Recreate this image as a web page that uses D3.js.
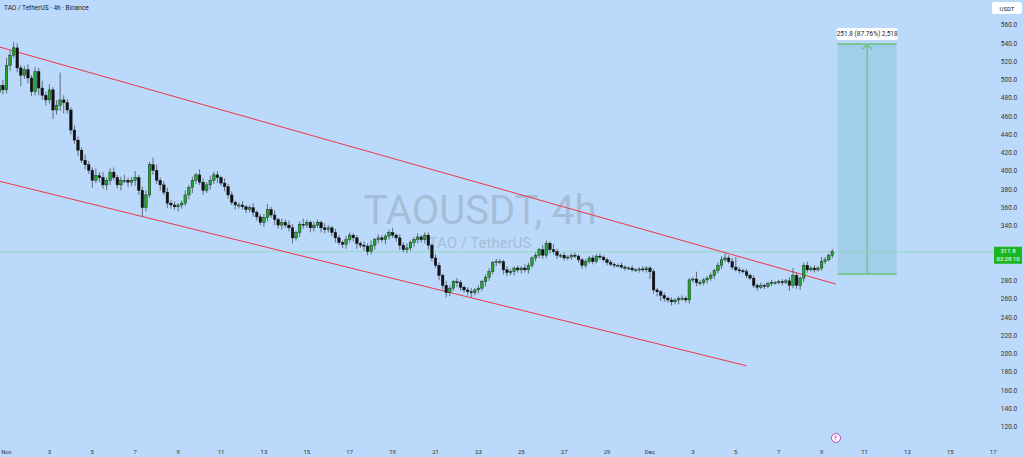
<!DOCTYPE html>
<html><head><meta charset="utf-8">
<script src="https://cdn.jsdelivr.net/npm/d3@7"></script>
<style>html,body{margin:0;padding:0;background:#bbd9fb;overflow:hidden}</style>
</head><body><svg id="c" width="1024" height="457"></svg>
<script>
// 4h closes, TAO/USDT, first candle Oct 31 16:00 UTC
const closes = [494,489,516,527,535,513,505,511,502,487,509,491,483,478,489,467,472,478,475,467,
445,434,423,412,407,401,390,395,393,385,390,399,393,385,390,390,388,390,393,
379,360,374,407,401,390,385,377,365,363,361,363,365,374,382,390,396,388,379,
385,390,396,393,387,383,374,366,363,363,361,358,360,355,350,344,349,358,352,347,
341,344,341,338,327,333,342,341,344,338,341,344,338,336,338,333,327,322,320,325,
330,327,321,319,318,312,319,325,327,325,329,333,330,327,319,314,316,322,325,328,
325,330,319,305,297,286,275,267,272,279,278,273,270,268,267,270,272,279,284,290,
300,301,301,292,289,290,294,292,294,292,297,305,308,314,308,321,314,312,308,308,
305,306,308,307,303,297,301,305,301,307,306,303,300,298,297,297,295,294,294,292,
292,293,292,294,290,270,268,264,261,259,257,259,261,261,259,281,282,278,278,
281,283,286,291,297,303,305,301,295,292,291,290,286,283,275,273,275,274,277,278,
278,279,278,280,275,286,275,283,297,292,294,292,294,301,303,308,311.8];
const upperWick = [4,6,8,5,6,5,3,4,6,3,5,4,8,4,6,3,6,30,5,4,
3,5,4,3,6,4,3,8,4,6,3,4,5,3,4,6,3,4,7,3,
4,5,3,8,6,3,4,5,3,4,2,3,5,3,4,2,6,4,3,5,
3,4,2,5,3,4,2,3,4,2,3,5,2,3,4,6,3,5,2,4,
3,5,4,2,3,6,3,2,4,3,2,5,3,2,4,3,2,4,3,2,
3,2,4,3,5,2,4,3,2,3,5,2,4,3,5,2,3,4,2,3,
3,2,4,3,2,5,3,2,4,3,2,3,4,2,3,2,3,4,2,3,
3,2,4,3,2,3,2,4,3,2,3,2,5,3,2,6,3,2,3,2,
2,3,2,2,3,2,3,2,3,2,2,3,2,2,3,2,2,3,2,2,
3,2,2,3,2,2,3,2,3,2,2,3,2,2,2,8,3,2,
2,3,2,3,4,5,3,4,11,3,2,3,2,3,2,3,2,2,3,2,
2,3,2,4,8,3,2,3,4,2,3,2,5,3,2,3,3];
const lowerWick = [8,5,4,6,3,5,12,4,6,5,4,8,5,6,4,10,5,6,12,4,
5,4,6,3,5,4,8,3,5,4,6,5,3,4,6,3,5,4,6,
5,10,4,3,5,4,6,3,5,4,3,5,4,3,5,6,4,3,5,
3,5,4,6,3,5,4,3,5,4,3,4,3,5,4,3,5,4,3,6,
4,5,3,4,6,3,5,4,3,5,4,3,5,4,3,4,5,3,4,5,
3,4,6,3,5,4,3,5,4,3,5,4,3,4,5,3,4,3,5,4,
3,4,5,4,3,5,4,5,4,3,5,4,3,4,5,3,4,3,5,4,
3,4,3,5,4,3,4,3,4,3,4,3,4,3,4,3,4,3,4,3,
3,2,3,2,3,4,3,2,3,2,3,2,3,2,3,2,2,3,2,2,
2,3,2,3,8,4,5,6,4,3,4,3,5,3,3,4,3,4,3,
3,4,3,4,3,4,3,2,3,2,3,2,3,2,3,4,2,3,2,3,
2,2,3,2,6,3,4,5,4,3,2,3,2,3,3,2,3];
const firstOpen = 486;
const yTicks = [560,540,520,500,480,460,440,420,400,380,360,340,320,300,280,260,240,220,200,180,160,140,120];
const xTickDates = ["2024-11-01","2024-11-03","2024-11-05","2024-11-07","2024-11-09","2024-11-11","2024-11-13","2024-11-15","2024-11-17","2024-11-19","2024-11-21","2024-11-23","2024-11-25","2024-11-27","2024-11-29","2024-12-01","2024-12-03","2024-12-05","2024-12-07","2024-12-09","2024-12-11","2024-12-13","2024-12-15","2024-12-17"];
const upperChannel = [["2024-10-31T16:00Z",536],["2024-12-09T16:00Z",276.5]];
const lowerChannel = [["2024-10-31T16:00Z",389],["2024-12-05T12:00Z",187]];
const measure = {from:287.5, to:539.3, t0:"2024-12-09T18:00Z", t1:"2024-12-12T12:00Z", label:"251.8 (87.76%) 2,518"};
const lastPrice = 311.8, countdown = "03:28:10";

const svg = d3.select("#c");
const x = d3.scaleUtc().domain([new Date("2024-11-01T00:00Z"), new Date("2024-12-01T00:00Z")]).range([6.5, 650]);
const y = d3.scaleLinear().domain([120,560]).range([427,25]);
const t0 = new Date("2024-10-31T16:00Z").getTime();
const H4 = 4*3600*1000;
const data = closes.map((c,i)=>{const o = i===0?firstOpen:closes[i-1];return {t:new Date(t0+i*H4),o,c,h:Math.max(o,c)+(upperWick[i]||2),l:Math.min(o,c)-(lowerWick[i]||2)};});

svg.append("rect").attr("width",1024).attr("height",457).attr("fill","#bbd9fb");
// watermark
svg.append("text").attr("x",480).attr("y",224).attr("text-anchor","middle").attr("font-family","Roboto, sans-serif").attr("font-size",40).attr("fill","#9fb4cc").attr("fill-opacity",0.75).text("TAOUSDT, 4h");
svg.append("text").attr("x",480).attr("y",248).attr("text-anchor","middle").attr("font-family","Roboto, sans-serif").attr("font-size",15).attr("fill","#9fb4cc").attr("fill-opacity",0.75).text("TAO / TetherUS");

// measure box
const mx0 = x(new Date(measure.t0)), mx1 = x(new Date(measure.t1));
svg.append("rect").attr("x",mx0).attr("y",y(measure.to)).attr("width",mx1-mx0).attr("height",y(measure.from)-y(measure.to)).attr("fill","#9ccbe6").attr("fill-opacity",0.85);
[measure.to,measure.from].forEach(v=>svg.append("line").attr("x1",mx0).attr("x2",mx1).attr("y1",y(v)).attr("y2",y(v)).attr("stroke","#6cc078").attr("stroke-width",1.5));
const mxm=(mx0+mx1)/2;
svg.append("line").attr("x1",mxm).attr("x2",mxm).attr("y1",y(measure.from)).attr("y2",y(measure.to)+1).attr("stroke","#6cc078").attr("stroke-width",1.2);
svg.append("path").attr("d",`M${mxm-5},${y(measure.to)+5}L${mxm},${y(measure.to)+1}L${mxm+5},${y(measure.to)+5}`).attr("fill","none").attr("stroke","#6cc078").attr("stroke-width",1.2);
svg.append("rect").attr("x",mx0-1).attr("y",y(measure.to)-16).attr("width",mx1-mx0+2).attr("height",12).attr("rx",2).attr("fill","#fff");
svg.append("text").attr("x",mxm).attr("y",y(measure.to)-7.5).attr("text-anchor","middle").attr("font-family","Roboto, sans-serif").attr("font-size",6.5).attr("fill","#222").text(measure.label);

// last price line
svg.append("line").attr("x1",0).attr("x2",994).attr("y1",y(lastPrice)).attr("y2",y(lastPrice)).attr("stroke","#8fd9a8").attr("stroke-width",0.8);

// channel
[upperChannel,lowerChannel].forEach(ch=>svg.append("line")
  .attr("x1",x(new Date(ch[0][0]))).attr("y1",y(ch[0][1])).attr("x2",x(new Date(ch[1][0]))).attr("y2",y(ch[1][1]))
  .attr("stroke","#f23645").attr("stroke-width",1));

// candles
const g = svg.append("g");
data.forEach(d=>{
  const cx = x(d.t), up = d.c>=d.o;
  g.append("line").attr("x1",cx).attr("x2",cx).attr("y1",y(d.h)).attr("y2",y(d.l)).attr("stroke","#4a5058").attr("stroke-width",0.8);
  const top = y(Math.max(d.o,d.c)), bot = y(Math.min(d.o,d.c));
  g.append("rect").attr("x",cx-1.3).attr("y",top).attr("width",2.6).attr("height",Math.max(1,bot-top))
   .attr("fill",up?"#1faa2a":"#111").attr("stroke","#111").attr("stroke-width",0.4);
});

// right axis
const ax = svg.append("g").attr("font-family","Roboto, sans-serif").attr("font-size",6.5).attr("fill","#333");
yTicks.filter(v=>Math.abs(y(v)-y(lastPrice))>12).forEach(v=>ax.append("text").attr("x",1009).attr("y",y(v)+2.3).attr("text-anchor","middle").text(v.toFixed(1)));
svg.append("rect").attr("x",992).attr("y",2).attr("width",30).attr("height",12).attr("rx",2).attr("fill","#fff");
svg.append("text").attr("x",1007).attr("y",10.5).attr("text-anchor","middle").attr("font-family","Roboto, sans-serif").attr("font-size",6).attr("fill","#222").text("USDT");
svg.append("rect").attr("x",994).attr("y",y(lastPrice)-5).attr("width",28).attr("height",17).attr("fill","#1bb51f");
svg.append("text").attr("x",1008).attr("y",y(lastPrice)+1.5).attr("text-anchor","middle").attr("font-family","Roboto, sans-serif").attr("font-size",6).attr("fill","#fff").text(lastPrice.toFixed(1));
svg.append("text").attr("x",1008).attr("y",y(lastPrice)+9.5).attr("text-anchor","middle").attr("font-family","Roboto, sans-serif").attr("font-size",6).attr("fill","#fff").text(countdown);

// x axis
const fmt = d=>{const dt=new Date(d+"T00:00Z");return dt.getUTCDate()===1?d3.utcFormat("%b")(dt):String(dt.getUTCDate());};
const xa = svg.append("g").attr("font-family","Roboto, sans-serif").attr("font-size",6).attr("fill","#333");
xTickDates.forEach(d=>{const px=x(new Date(d+"T00:00Z")); if(px<996) xa.append("text").attr("x",px).attr("y",454).attr("text-anchor","middle").text(fmt(d));});

// icon
svg.append("circle").attr("cx",836).attr("cy",438).attr("r",4.5).attr("fill","#fff").attr("stroke","#c040c0").attr("stroke-width",1);
svg.append("text").attr("x",836).attr("y",440.2).attr("text-anchor","middle").attr("font-size",6).attr("font-family","DejaVu Sans").attr("fill","#c040c0").text("F");

// title
svg.append("text").attr("x",4).attr("y",10).attr("font-family","Roboto, sans-serif").attr("font-size",6.5).attr("fill","#222").text("TAO / TetherUS · 4h · Binance");
</script></body></html>
